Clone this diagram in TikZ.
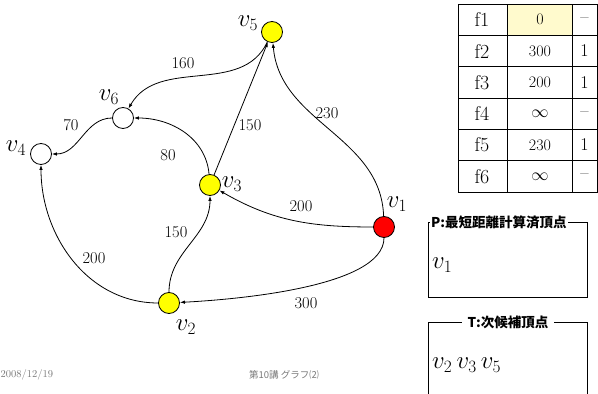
\documentclass[tikz,border=0pt]{standalone}
\usepackage{fontspec}
\newfontfamily\jpfont{Noto Sans CJK JP}
\usetikzlibrary{arrows.meta}

\definecolor{nodeyellow}{RGB}{255,255,0}
\definecolor{nodered}{RGB}{255,0,0}
\definecolor{cellyellow}{RGB}{255,250,205}
\definecolor{footgray}{RGB}{120,120,120}

\tikzset{
  vertex/.style={circle, draw, line width=0.8pt, minimum size=21pt, inner sep=0pt},
  vname/.style={font=\fontsize{25}{28}\selectfont, inner sep=0pt},
  weight/.style={font=\fontsize{16.5}{18}\selectfont, inner sep=0pt},
  edge/.style={->, line width=0.8pt},
  cell/.style={line width=0.8pt},
  boxtitle/.style={fill=white, inner sep=1pt, font=\jpfont\bfseries\fontsize{13.5}{16}\selectfont},
}

\begin{document}
\begin{tikzpicture}[x=1pt, y=1pt, >={Latex[length=5pt,width=3.5pt]}]
    \useasboundingbox (0,0) rectangle (598,394);

    % --- VERTICES ---
    \node[vertex, fill=nodered]    (v1) at (384,167) {};
    \node[vertex, fill=nodeyellow] (v2) at (169,91) {};
    \node[vertex, fill=nodeyellow] (v3) at (210,209) {};
    \node[vertex, fill=white]      (v4) at (41,240) {};
    \node[vertex, fill=nodeyellow] (v5) at (272,362) {};
    \node[vertex, fill=white]      (v6) at (123,276) {};

    % names
    \node[vname] (n1) at (397,190) {$v_1$};
    \node[vname] (n2) at (186,67) {$v_2$};
    \node[vname] (n3) at (232,210) {$v_3$};
    \node[vname] (n4) at (16,246) {$v_4$};
    \node[vname] (n5) at (248,371) {$v_5$};
    \node[vname] (n6) at (109,297) {$v_6$};

    % --- EDGES ---
    \draw[edge] (v5) to[out=245, in=60] (v6);
    \draw[edge] (v6) to[out=180, in=0] (v4);
    \draw[edge] (v3) to[out=95, in=0] (v6);
    \draw[edge] (v3) -- (v5);
    \draw[edge] (v1) to[out=92, in=-85] (v5);
    \draw[edge] (v1) to[out=180, in=-30] (v3);
    \draw[edge] (v1) to[out=-90, in=3, looseness=0.6] (v2);
    \draw[edge] (v2) to[out=90, in=-90] (v3);
    \draw[edge] (v2) to[out=180, in=-90] (v4);

    % weights
    \node[weight] (w56) at (183,331) {160};
    \node[weight] (w64) at (71,269) {70};
    \node[weight] (w36) at (168,239) {80};
    \node[weight] (w35) at (250,269) {150};
    \node[weight] (w15) at (327,281) {230};
    \node[weight] (w13) at (301,188) {200};
    \node[weight] (w12) at (306,91) {300};
    \node[weight] (w23) at (176,162) {150};
    \node[weight] (w24) at (94,136) {200};

    % --- TABLE ---
    \fill[cellyellow] (507,390) rectangle (572,358.67);
    \foreach \f/\d/\p [count=\i] in {f1/0/--, f2/300/1, f3/200/1, f4/$\infty$/--, f5/230/1, f6/$\infty$/--} {
        \pgfmathsetmacro{\top}{390-(\i-1)*31.33}
        \pgfmathsetmacro{\mid}{\top-15.67}
        \draw[cell] (458,\top) rectangle (507,\top-31.33);
        \draw[cell] (507,\top) rectangle (572,\top-31.33);
        \draw[cell] (572,\top) rectangle (597,\top-31.33);
        \node[font=\fontsize{20}{22}\selectfont] (f\i) at (482,\mid) {\f};
        \node[font=\fontsize{16}{18}\selectfont] (d\i) at (540,\mid) {\d};
        \node[font=\fontsize{18}{20}\selectfont] (p\i) at (584.5,\mid) {\p};
    }

    % --- P BOX ---
    \draw[cell] (428,172) rectangle (587,97);
    \node[boxtitle, anchor=west] (ptitle) at (430,172) {P:最短距離計算済頂点};
    \node[vname, anchor=west] (pset) at (432,129) {$v_1$};

    % --- T BOX ---
    \draw[cell] (428,-1) -- (428,72) -- (587,72) -- (587,-1);
    \node[boxtitle, inner xsep=6pt] (ttitle) at (508,72) {T:次候補頂点};
    \node[vname, anchor=west] (tset) at (432,29) {$v_2\,v_3\,v_5$};

    % --- FOOTER ---
    \node[anchor=west, inner sep=0pt, text=footgray, font=\fontsize{10.5}{12}\selectfont] (date) at (0.5,19) {2008/12/19};
    \node[inner sep=0pt, text=footgray, font=\jpfont\fontsize{9.5}{11}\selectfont] (title) at (284,19) {第10講 グラフ⑵};
\end{tikzpicture}
\end{document}
